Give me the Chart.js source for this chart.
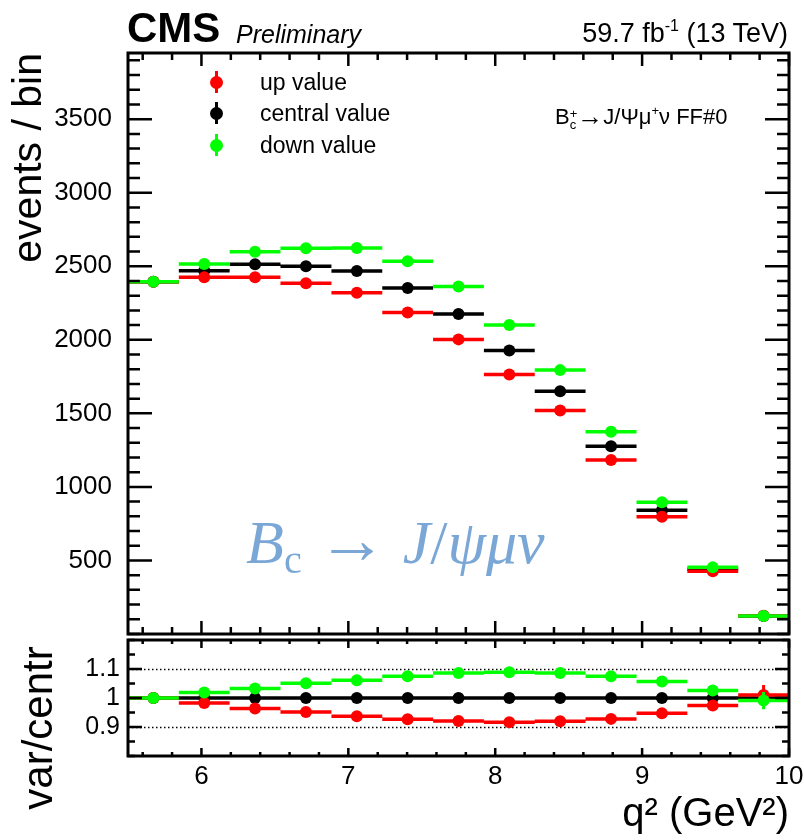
<!DOCTYPE html>
<html>
<head>
<meta charset="utf-8">
<script src="https://cdn.jsdelivr.net/npm/chart.js@4.4.1/dist/chart.umd.min.js"></script>
<style>
  body { margin: 0; width: 804px; height: 840px; background: #fff; overflow: hidden; position: relative; font-family: 'Liberation Sans', Arial, sans-serif; }
  canvas { position: absolute; left: 0; }
  .txt { position: absolute; line-height: 1; white-space: nowrap; color: #000; }
  .leg { position: absolute; left: 204px; height: 30px; display: flex; align-items: center; font-size: 23px; }
  .mk { position: relative; width: 25px; height: 30px; }
  .mk .bar { position: absolute; left: 11px; top: 4px; width: 3px; height: 22px; }
  .mk .dot { position: absolute; left: 6px; top: 9px; width: 13px; height: 13px; border-radius: 50%; }
  .leg span { margin-left: 31px; }
</style>
</head>
<body>
<canvas id="top" width="804" height="640" style="top:0"></canvas>
<canvas id="bot" width="804" height="240" style="top:600px"></canvas>

<div class="txt" style="left:127px; top:7px; font-size:42px; font-weight:bold;">CMS</div>
<div class="txt" style="left:236px; top:22px; font-size:25px; font-style:italic;">Preliminary</div>
<div class="txt" style="right:16px; top:20px; font-size:27px;">59.7 fb<span style="font-size:16px; position:relative; top:-11px;">-1</span> (13 TeV)</div>

<div class="leg" style="top:67px"><div class="mk"><div class="bar" style="background:#f00"></div><div class="dot" style="background:#f00"></div></div><span>up value</span></div>
<div class="leg" style="top:98px"><div class="mk"><div class="bar" style="background:#000"></div><div class="dot" style="background:#000"></div></div><span>central value</span></div>
<div class="leg" style="top:130px"><div class="mk"><div class="bar" style="background:#0f0"></div><div class="dot" style="background:#0f0"></div></div><span>down value</span></div>

<div class="txt" style="left:555px; top:102px; font-size:22px;">B<span style="display:inline-block; font-size:13px; line-height:11px; vertical-align:-5px;">+<br>c</span><span style="font-size:26px; position:relative; top:1px;">&rarr;</span>J/&Psi;&mu;<span style="font-size:13px; position:relative; top:-9px;">+</span>&nu; FF#0</div>

<div class="txt" style="left:246px; top:505px; font-size:62px; font-family:'Liberation Serif','DejaVu Serif',serif; color:#7ba7d7;"><i>B</i><span style="font-size:40px; position:relative; top:10px;">c</span> <span style="font-size:70px;">&rarr;</span> <i>J</i>/<i>&psi;&mu;&nu;</i></div>

<div class="txt" style="left:-112px; top:707px; width:300px; text-align:center; font-size:42px; transform:rotate(-90deg);">var/centr</div>

<script>
// q^2 bin edges (GeV^2)
const binEdges = [5.5, 5.846, 6.192, 6.538, 6.885, 7.231, 7.577, 7.923, 8.269, 8.615, 8.962, 9.308, 9.654, 10.0];

// events / bin
const upValues      = [2395, 2426, 2426, 2385, 2320, 2185, 2003, 1765, 1520, 1183, 797, 427, 124];
const centralValues = [2395, 2470, 2513, 2500, 2468, 2352, 2176, 1927, 1651, 1276, 842, 440, 123];
const downValues    = [2395, 2515, 2598, 2623, 2625, 2534, 2363, 2100, 1794, 1375, 896, 453, 122];

// var / central
const upRatio      = [1.0, 0.983, 0.964, 0.952, 0.937, 0.927, 0.921, 0.916, 0.920, 0.928, 0.947, 0.974, 1.010];
const centralRatio = [1, 1, 1, 1, 1, 1, 1, 1, 1, 1, 1, 1, 1];
const downRatio    = [1.0, 1.019, 1.033, 1.051, 1.061, 1.075, 1.086, 1.089, 1.086, 1.075, 1.057, 1.026, 0.991];
const upRatioErr   = [0.004, 0.004, 0.004, 0.004, 0.004, 0.004, 0.004, 0.005, 0.005, 0.006, 0.008, 0.012, 0.035];
const downRatioErr = [0.004, 0.004, 0.004, 0.004, 0.004, 0.004, 0.004, 0.005, 0.005, 0.006, 0.008, 0.012, 0.030];

const yTicksTop = [500, 1000, 1500, 2000, 2500, 3000, 3500];
const yTicksBot = [0.9, 1, 1.1];
const xTicks = [6, 7, 8, 9, 10];

const RED = '#ff0000', BLACK = '#000000', GREEN = '#00ff00';
const centers = binEdges.slice(0, -1).map((e, i) => (e + binEdges[i + 1]) / 2);

function binBars(vals) {
    let pts = [];
    vals.forEach((v, i) => {
        pts.push({x: binEdges[i], y: v}, {x: binEdges[i + 1], y: v}, {x: binEdges[i + 1], y: null});
    });
    return pts;
}
function errBars(vals, errs) {
    let pts = [];
    vals.forEach((v, i) => {
        pts.push({x: centers[i], y: v - errs[i]}, {x: centers[i], y: v + errs[i]}, {x: centers[i], y: null});
    });
    return pts;
}
function markers(vals) {
    return vals.map((v, i) => ({x: centers[i], y: v}));
}
function series(vals, color, base, errs) {
    let ds = [
        {data: markers(vals), showLine: false, pointRadius: 6, pointBorderWidth: 0, pointBackgroundColor: color, order: base},
        {data: binBars(vals), borderColor: color, borderWidth: 3.5, pointRadius: 0, spanGaps: false, order: base + 1}
    ];
    if (errs) {
        ds.push({data: errBars(vals, errs), borderColor: color, borderWidth: 3, pointRadius: 0, spanGaps: false, order: base + 1});
    }
    return ds;
}

// ROOT style frame, inward ticks and dotted reference lines
const rootFrame = {
    id: 'rootFrame',
    beforeDatasetsDraw(chart, args, o) {
        if (!o.refLines) return;
        const {ctx, chartArea: a, scales: {y}} = chart;
        ctx.save();
        ctx.strokeStyle = '#000';
        ctx.lineWidth = 1.3;
        ctx.setLineDash([1.5, 2.5]);
        o.refLines.forEach(v => {
            const py = Math.round(y.getPixelForValue(v)) + 0.5;
            ctx.beginPath(); ctx.moveTo(a.left, py); ctx.lineTo(a.right, py); ctx.stroke();
        });
        ctx.restore();
    },
    afterDatasetsDraw(chart, args, o) {
        const {ctx, chartArea: a, scales: {x, y}} = chart;
        ctx.save();
        ctx.strokeStyle = '#000';
        ctx.lineWidth = 2.5;
        const steps = (sc, step) => {
            let out = [];
            for (let k = Math.ceil(sc.min / step - 1e-6); k * step <= sc.max + 1e-6; k++) out.push(k * step);
            return out;
        };
        steps(x, o.xMinor).forEach(v => {
            const major = xTicks.some(t => Math.abs(t - v) < 1e-6);
            const len = major ? o.xLen[0] : o.xLen[1];
            const px = x.getPixelForValue(v);
            ctx.beginPath();
            ctx.moveTo(px, a.bottom); ctx.lineTo(px, a.bottom - len);
            ctx.moveTo(px, a.top); ctx.lineTo(px, a.top + len);
            ctx.stroke();
        });
        steps(y, o.yMinor).forEach(v => {
            const major = o.yMajor.some(t => Math.abs(t - v) < 1e-6);
            const len = major ? o.yLen[0] : o.yLen[1];
            const py = y.getPixelForValue(v);
            ctx.beginPath();
            ctx.moveTo(a.left, py); ctx.lineTo(a.left + len, py);
            ctx.moveTo(a.right, py); ctx.lineTo(a.right - len, py);
            ctx.stroke();
        });
        ctx.lineWidth = 3;
        ctx.strokeRect(a.left, a.top, a.right - a.left, a.bottom - a.top);
        ctx.restore();
    }
};

const font = 'Liberation Sans';

new Chart(document.getElementById('top').getContext('2d'), {
    type: 'line',
    data: {
        datasets: [
            ...series(downValues, GREEN, 1),
            ...series(upValues, RED, 3),
            ...series(centralValues, BLACK, 5)
        ]
    },
    options: {
        responsive: false,
        animation: false,
        events: [],
        layout: {padding: {left: 0, top: 53, right: 15, bottom: 0}},
        plugins: {
            legend: {display: false},
            tooltip: {enabled: false},
            rootFrame: {xMinor: 0.2, xLen: [13, 7], yMinor: 100, yMajor: yTicksTop, yLen: [24, 12]}
        },
        scales: {
            x: {
                type: 'linear', min: 5.5, max: 10,
                ticks: {display: false},
                grid: {display: false},
                border: {display: false},
                afterFit: s => { s.height = 2; s.paddingLeft = 0; s.paddingRight = 0; }
            },
            y: {
                min: 0, max: 3950,
                afterBuildTicks: s => { s.ticks = yTicksTop.map(v => ({value: v})); },
                ticks: {color: '#000', padding: 8, font: {family: font, size: 26}, callback: v => String(v)},
                grid: {display: false},
                border: {display: false},
                title: {display: true, text: 'events / bin', align: 'end', color: '#000',
                        font: {family: font, size: 41, lineHeight: 1}, padding: {top: 9, bottom: 0}},
                afterFit: s => { s.width = 128; s.paddingTop = 0; s.paddingBottom = 0; }
            }
        }
    },
    plugins: [rootFrame]
});

new Chart(document.getElementById('bot').getContext('2d'), {
    type: 'line',
    data: {
        datasets: [
            ...series(downRatio, GREEN, 1, downRatioErr),
            ...series(upRatio, RED, 3, upRatioErr),
            ...series(centralRatio, BLACK, 5)
        ]
    },
    options: {
        responsive: false,
        animation: false,
        events: [],
        layout: {padding: {left: 0, top: 40, right: 15, bottom: 0}},
        plugins: {
            legend: {display: false},
            tooltip: {enabled: false},
            rootFrame: {xMinor: 0.2, xLen: [8, 4], yMinor: 0.05, yMajor: yTicksBot, yLen: [14, 7], refLines: [0.9, 1.1]}
        },
        scales: {
            x: {
                type: 'linear', min: 5.5, max: 10,
                afterBuildTicks: s => { s.ticks = xTicks.map(v => ({value: v})); },
                ticks: {color: '#000', padding: 5, maxRotation: 0, font: {family: font, size: 26}, callback: v => String(v)},
                grid: {display: false, drawTicks: false},
                border: {display: false},
                title: {display: true, text: 'q² (GeV²)', align: 'end', color: '#000',
                        font: {family: font, size: 40, lineHeight: 1}, padding: {top: 0, bottom: 5}},
                afterFit: s => { s.height = 84; s.paddingLeft = 0; s.paddingRight = 0; }
            },
            y: {
                min: 0.8, max: 1.2,
                afterBuildTicks: s => { s.ticks = yTicksBot.map(v => ({value: v})); },
                ticks: {color: '#000', padding: 8, font: {family: font, size: 25}, callback: v => String(v)},
                grid: {display: false, drawTicks: false},
                border: {display: false},
                afterFit: s => { s.width = 128; s.paddingTop = 0; s.paddingBottom = 0; }
            }
        }
    },
    plugins: [rootFrame]
});
</script>
</body>
</html>
